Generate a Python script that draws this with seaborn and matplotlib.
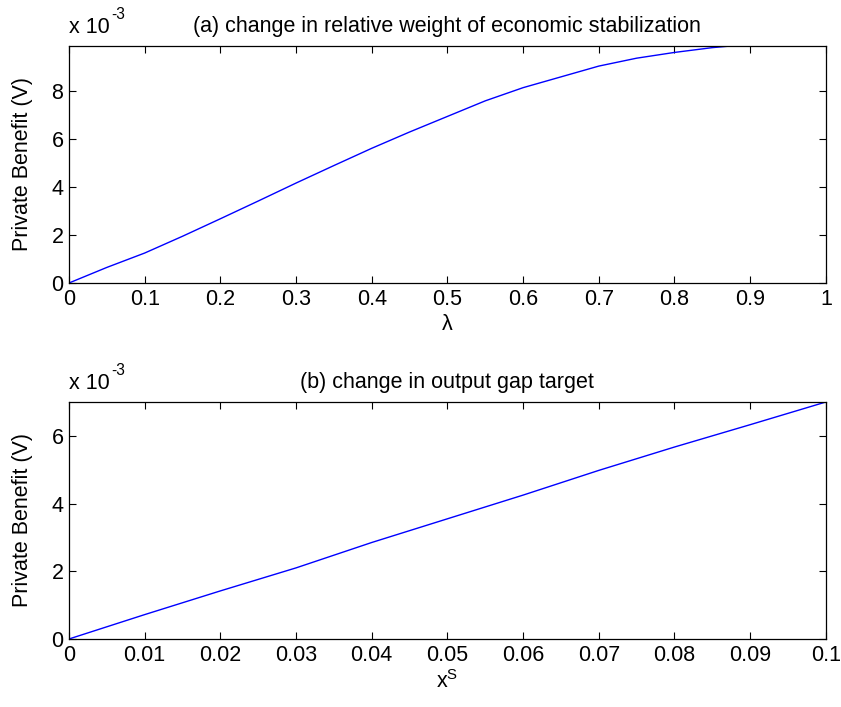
import matplotlib
matplotlib.use("Agg")
import matplotlib.pyplot as plt
import seaborn as sns
import pandas as pd

# Panel (a): private benefit (x 10^-3) vs lambda
lam = [0.0, 0.05, 0.1, 0.15, 0.2, 0.25, 0.3, 0.35, 0.4, 0.45, 0.5, 0.55,
       0.6, 0.65, 0.7, 0.75, 0.8, 0.85, 0.875, 0.9, 0.95, 1.0]
benefit_a = [0.0, 0.65, 1.25, 1.95, 2.68, 3.42, 4.17, 4.9, 5.62, 6.3, 6.95, 7.6,
             8.15, 8.6, 9.05, 9.38, 9.62, 9.82, 9.89, 9.89, 9.89, 9.89]

# Panel (b): private benefit (x 10^-3) vs output gap target x^S
xs = [0.0, 0.01, 0.02, 0.03, 0.04, 0.05, 0.06, 0.07, 0.08, 0.09, 0.1]
benefit_b = [0.0, 0.72, 1.42, 2.1, 2.85, 3.55, 4.25, 4.98, 5.67, 6.33, 7.0]

xticks_a = [0, 0.1, 0.2, 0.3, 0.4, 0.5, 0.6, 0.7, 0.8, 0.9, 1]
xticklabels_a = ["0", "0.1", "0.2", "0.3", "0.4", "0.5", "0.6", "0.7", "0.8", "0.9", "1"]
yticks_a = [0, 2, 4, 6, 8]
xticks_b = [0, 0.01, 0.02, 0.03, 0.04, 0.05, 0.06, 0.07, 0.08, 0.09, 0.1]
xticklabels_b = ["0", "0.01", "0.02", "0.03", "0.04", "0.05", "0.06", "0.07", "0.08", "0.09", "0.1"]
yticks_b = [0, 2, 4, 6]

sns.set_theme(style="white")
plt.rcParams['font.family'] = ['Liberation Sans', 'DejaVu Sans']
plt.rcParams['mathtext.fontset'] = 'custom'
plt.rcParams['mathtext.rm'] = 'Liberation Sans'
plt.rcParams['mathtext.it'] = 'Liberation Sans'
plt.rcParams['text.color'] = 'black'
plt.rcParams['axes.labelcolor'] = 'black'
plt.rcParams['xtick.color'] = 'black'
plt.rcParams['ytick.color'] = 'black'

FS = 15.5
fig = plt.figure(figsize=(8.41, 7.07), dpi=100)
ax1 = fig.add_axes([0.082, 0.5997, 0.900, 0.3353])
ax2 = fig.add_axes([0.082, 0.0962, 0.900, 0.3352])

df_a = pd.DataFrame({"lam": lam, "v": benefit_a})
df_b = pd.DataFrame({"xs": xs, "v": benefit_b})
sns.lineplot(data=df_a, x="lam", y="v", ax=ax1, color=(0, 0, 1), linewidth=1.0)
sns.lineplot(data=df_b, x="xs", y="v", ax=ax2, color=(0, 0, 1), linewidth=1.0)

def style(ax, xt, xtl, yt, xlim, ylim, title, xlabel):
    ax.set_xlim(*xlim)
    ax.set_ylim(*ylim)
    ax.set_xticks(xt)
    ax.set_xticklabels(xtl, fontsize=FS)
    ax.set_yticks(yt)
    ax.set_yticklabels([str(v) for v in yt], fontsize=FS)
    ax.tick_params(direction="in", length=5, width=0.8, color="black",
                   top=True, right=True, bottom=True, left=True,
                   labeltop=False, labelright=False, pad=4)
    for s in ax.spines.values():
        s.set_color("black")
        s.set_linewidth(0.9)
        s.set_visible(True)
    ax.set_ylabel("Private Benefit (V)", fontsize=FS, labelpad=13)
    ax.set_xlabel(xlabel, fontsize=FS, labelpad=3)
    ax.set_title(title, fontsize=FS, pad=10)
    ax.text(0.0, 1.035, "x 10", transform=ax.transAxes, fontsize=FS,
            ha="left", va="bottom")
    ax.text(0.056, 1.10, "-3", transform=ax.transAxes, fontsize=FS * 0.72,
            ha="left", va="bottom")

style(ax1, xticks_a, xticklabels_a, yticks_a, (0, 1), (0, 9.89),
      "(a) change in relative weight of economic stabilization", "λ")
style(ax2, xticks_b, xticklabels_b, yticks_b, (0, 0.1), (0, 7.0),
      "(b) change in output gap target", r"x$^{\rm S}$")

fig.savefig("out.png", dpi=100)
